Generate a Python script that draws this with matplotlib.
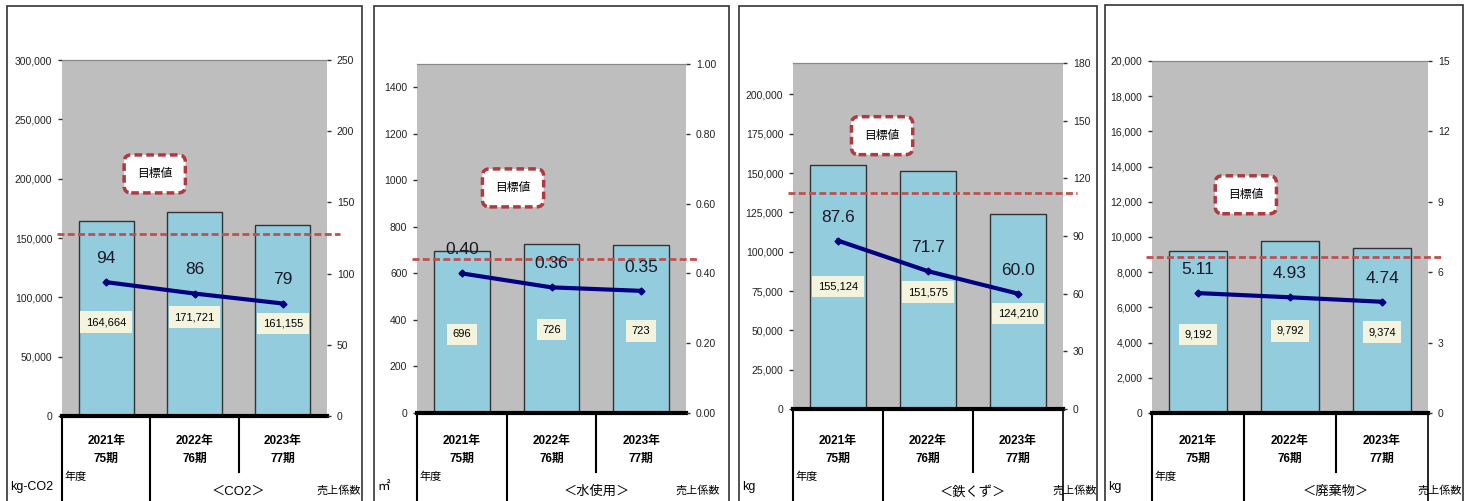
import matplotlib
matplotlib.use("Agg")
import matplotlib.pyplot as plt
import matplotlib.font_manager as fm
import matplotlib.transforms as mtrans
from matplotlib.lines import Line2D
from matplotlib.patches import Rectangle
from matplotlib.ticker import FuncFormatter, MultipleLocator

# ---- data ----
years = ["2021年\n75期", "2022年\n76期", "2023年\n77期"]
titles = ["＜CO2＞", "＜水使用＞", "＜鉄くず＞", "＜廃棄物＞"]
units = ["kg-CO2", "㎡", "kg", "kg"]

co2 = [164664, 171721, 161155]
co2_ratio = [94, 86, 79]
water = [696, 726, 723]
water_ratio = [0.40, 0.36, 0.35]
scrap = [155124, 151575, 124210]
scrap_ratio = [87.6, 71.7, 60.0]
waste = [9192, 9792, 9374]
waste_ratio = [5.11, 4.93, 4.74]
targets = [153000, 662, 137100, 8860]

bars = [co2, water, scrap, waste]
ratios = [co2_ratio, water_ratio, scrap_ratio, waste_ratio]
ratio_fmt = ["{:.0f}", "{:.2f}", "{:.1f}", "{:.2f}"]

# axis ranges: (left max, left step, left last tick, right max, right step, right fmt)
axis_cfg = [
    (300000, 50000, 300000, 250, 50, "{:.0f}"),
    (1500, 200, 1400, 1.0, 0.2, "{:.2f}"),
    (220000, 25000, 200000, 180, 30, "{:.0f}"),
    (20000, 2000, 20000, 15, 3, "{:.0f}"),
]
left_comma = [True, False, True, True]

# ---- layout (pixels) ----
W, H = 1467, 501
frames = [(7, 6, 362), (374, 6, 729), (739, 6, 1097), (1105, 5, 1463)]
plots = [(62, 60, 327, 416), (417, 64, 686, 413), (793, 63, 1063, 409), (1152, 61, 1428, 413)]
goal_pos = [(0.35, 0.68), (0.357, 0.645), (0.33, 0.79), (0.34, 0.62)]
barlab_y = [[0.264, 0.278, 0.261], [0.226, 0.238, 0.235],
            [0.353, 0.338, 0.275], [0.224, 0.233, 0.23]]
right_border = [False, False, True, True]

names = {f.name for f in fm.fontManager.ttflist}
numfont = "Liberation Sans Narrow" if "Liberation Sans Narrow" in names else "Liberation Sans"
FAM = [numfont, "Noto Sans CJK JP", "DejaVu Sans"]
plt.rcParams["font.family"] = FAM

GRAY = "#BEBEBE"
BLUE = "#93CDDD"
NAVY = "#000080"
RED = "#C0504D"


def fx(px):
    return px / W


def fy(py):
    return 1 - py / H


fig = plt.figure(figsize=(W / 100, H / 100), dpi=100)

for i in range(4):
    L, T, R, Z = plots[i]
    ax = fig.add_axes([fx(L), fy(Z), fx(R) - fx(L), fy(T) - fy(Z)])
    ax2 = ax.twinx()
    x = range(3)
    lmax, lstep, llast, rmax, rstep, rfmt = axis_cfg[i]

    ax.set_facecolor(GRAY)
    ax.bar(x, bars[i], width=0.62, color=BLUE, edgecolor="#333333", linewidth=1, zorder=2)
    ax.set_xlim(-0.5, 2.5)
    ax.set_ylim(0, lmax)
    ax.set_yticks([v for v in range(0, llast + 1, lstep)])
    if left_comma[i]:
        ax.yaxis.set_major_formatter(FuncFormatter(lambda v, p: f"{int(v):,}"))
    else:
        ax.yaxis.set_major_formatter(FuncFormatter(lambda v, p: f"{int(v)}"))
    ax.set_xticks([])
    ax.axhline(0, color="black", lw=3, zorder=5, clip_on=False)

    # target line
    ax.plot([-0.02, 1.05], [targets[i], targets[i]], transform=ax.get_yaxis_transform(),
            color=RED, lw=2, ls=(0, (2.5, 1.2)), clip_on=False, zorder=6)

    # bar value labels
    for k in x:
        ax.text(k, barlab_y[i][k], f"{bars[i][k]:,}", transform=ax.get_xaxis_transform(),
                ha="center", va="center", fontsize=8, zorder=7,
                bbox=dict(boxstyle="square,pad=0.5", fc="#F4F4DE", ec="none"))

    ax2.plot(x, ratios[i], color=NAVY, lw=3, marker="D", ms=3.5, zorder=8)
    ax2.set_ylim(0, rmax)
    ax2.yaxis.set_major_locator(MultipleLocator(rstep))
    ax2.yaxis.set_major_formatter(FuncFormatter(lambda v, p, f=rfmt: f.format(v)))
    for k in x:
        ax2.annotate(ratio_fmt[i].format(ratios[i][k]), (k, ratios[i][k]), xytext=(0, 17),
                     textcoords="offset points", ha="center", va="center",
                     fontsize=12.5, color="#1a1a2a")

    # goal box
    gx, gy = goal_pos[i]
    ax2.text(gx, gy, "目標値", transform=ax.transAxes, ha="center", va="center", fontsize=8.5,
             zorder=9, bbox=dict(boxstyle="round,pad=1.1,rounding_size=0.6", fc="white",
                                 ec="#B03A40", ls=(0, (2.2, 1.2)), lw=2.5))

    for a in (ax, ax2):
        for s in ("left", "right", "bottom"):
            a.spines[s].set_visible(False)
        a.spines["top"].set_color("#888888")
        a.spines["top"].set_linewidth(0.8)
        a.tick_params(axis="y", direction="out", length=3, width=1, color="#333333",
                      labelsize=7.5, pad=4, labelcolor="#222222")

    # category table below the plot
    cw = (R - L) / 3
    fig.add_artist(Line2D([fx(L), fx(L)], [fy(Z), fy(H + 2)], color="black", lw=1.5))
    fig.add_artist(Line2D([fx(L + cw), fx(L + cw)], [fy(Z), fy(H + 2)], color="black", lw=1.5))
    fig.add_artist(Line2D([fx(L + 2 * cw), fx(L + 2 * cw)], [fy(Z), fy(472)], color="black", lw=1.5))
    if right_border[i]:
        fig.add_artist(Line2D([fx(R), fx(R)], [fy(Z), fy(H + 2)], color="black", lw=1.2))

    tr = mtrans.blended_transform_factory(ax.transData, fig.transFigure)
    for k in x:
        ax.text(k, fy(450), years[k], transform=tr, ha="center", va="center",
                fontsize=8.5, fontweight="bold", linespacing=1.6, clip_on=False)
    fig.text(fx(L + 2), fy(477), "年度", ha="left", va="center", fontsize=8)
    fig.text(fx((L + cw + R) / 2), fy(492), titles[i], ha="center", va="center", fontsize=9.5)
    fig.text(fx(R + 12), fy(490), "売上係数", ha="center", va="center", fontsize=8)
    fl, ft, fr = frames[i]
    fig.text(fx(fl + 3), fy(487), units[i], ha="left", va="center", fontsize=9)

    # panel frame
    fig.add_artist(Rectangle((fx(fl), fy(H + 3)), fx(fr) - fx(fl), fy(ft) - fy(H + 3),
                             transform=fig.transFigure, fill=False, ec="#333333", lw=1.2))

fig.savefig("out.png", dpi=100)
